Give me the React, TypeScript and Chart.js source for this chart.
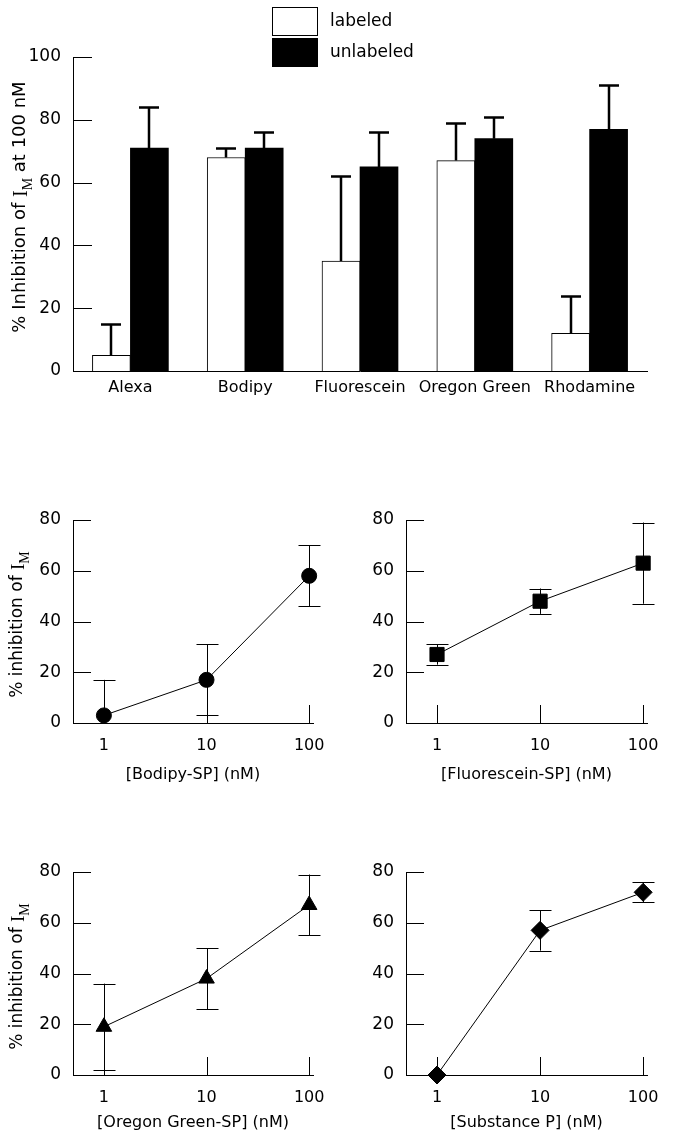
import React, { useEffect, useRef } from 'react';
import { Chart, registerables } from 'chart.js';

Chart.register(...registerables);

// ---------------- data ----------------
const dyeCategories = ['Alexa', 'Bodipy', 'Fluorescein', 'Oregon Green', 'Rhodamine'];
const labeledValues = [5, 68, 35, 67, 12];
const labeledErrors = [10, 3, 27, 12, 12];
const unlabeledValues = [71, 71, 65, 74, 77];
const unlabeledErrors = [13, 5, 11, 7, 14];
const barYTicks = [0, 20, 40, 60, 80, 100];

const concentrations = [1, 10, 100];
const concTickLabels = ['1', '10', '100'];
const doseYTicks = [0, 20, 40, 60, 80];

const bodipyValues = [3, 17, 58];
const bodipyErrors = [14, 14, 12];
const fluoresceinValues = [27, 48, 63];
const fluoresceinErrors = [4, 5, 16];
const oregonValues = [19, 38, 67];
const oregonErrors = [17, 12, 12];
const substancePValues = [0, 57, 72];
const substancePErrors = [0, 8, 4];

const SANS = "'DejaVu Sans', sans-serif";
const SERIF = "'Liberation Serif', serif";

// raw (unresolved) plugin options
function rawOpts(chart: any, id: string): any {
  const o = chart.config && chart.config.options;
  return (o && o.plugins && o.plugins[id]) || null;
}

// ---------------- plugins ----------------
function drawErrorBars(chart: any, opts: any) {
  const { ctx } = chart;
  chart.data.datasets.forEach((ds: any, di: number) => {
    const errs = ds.errors;
    if (!errs) return;
    const meta = chart.getDatasetMeta(di);
    const yScale = chart.scales[meta.yAxisID];
    ctx.save();
    ctx.strokeStyle = opts.color || '#000';
    ctx.lineWidth = opts.lineWidth || 1;
    const half = (opts.capWidth || 20) / 2;
    meta.data.forEach((el: any, i: number) => {
      const raw = ds.data[i];
      const value = typeof raw === 'object' ? raw.y : raw;
      const e = errs[i];
      if (!e) return;
      const x = Math.round(el.x) + (opts.lineWidth % 2 === 1 ? 0.5 : 0);
      const y0 = yScale.getPixelForValue(value);
      ctx.beginPath();
      const hi = value + e;
      const yHi = yScale.getPixelForValue(Math.min(hi, yScale.max));
      ctx.moveTo(x, y0);
      ctx.lineTo(x, yHi);
      if (hi <= yScale.max) {
        const yy = Math.round(yHi) + 0.5;
        ctx.moveTo(x - half, yy);
        ctx.lineTo(x + half, yy);
      }
      if (opts.both) {
        const lo = value - e;
        const yLo = yScale.getPixelForValue(Math.max(lo, yScale.min));
        ctx.moveTo(x, y0);
        ctx.lineTo(x, yLo);
        if (lo >= yScale.min) {
          const yy = Math.round(yLo) + 0.5;
          ctx.moveTo(x - half, yy);
          ctx.lineTo(x + half, yy);
        }
      }
      ctx.stroke();
    });
    ctx.restore();
  });
}

const errorBarPlugin = {
  id: 'errorBars',
  beforeDatasetsDraw(chart: any) {
    const opts = rawOpts(chart, 'errorBars');
    if (opts && opts.layer === 'before') drawErrorBars(chart, opts);
  },
  afterDatasetsDraw(chart: any) {
    const opts = rawOpts(chart, 'errorBars');
    if (opts && opts.layer === 'after') drawErrorBars(chart, opts);
  },
};

const innerTicksPlugin = {
  id: 'innerTicks',
  beforeDatasetsDraw(chart: any) {
    const opts = rawOpts(chart, 'innerTicks');
    if (!opts) return;
    const { ctx, chartArea } = chart;
    ctx.save();
    ctx.strokeStyle = '#000';
    ctx.lineWidth = 1;
    ctx.beginPath();
    (opts.axes || []).forEach((id: string) => {
      const scale = chart.scales[id];
      scale.ticks.forEach((t: any) => {
        const p = scale.getPixelForValue(t.value);
        if (scale.isHorizontal()) {
          const x = Math.round(p) + 0.5;
          ctx.moveTo(x, chartArea.bottom);
          ctx.lineTo(x, chartArea.bottom - opts.length);
        } else {
          const y = Math.round(p) + 0.5;
          ctx.moveTo(chartArea.left, y);
          ctx.lineTo(chartArea.left + opts.length, y);
        }
      });
    });
    ctx.stroke();
    ctx.restore();
  },
};

const yTitlePlugin = {
  id: 'yTitle',
  afterDraw(chart: any) {
    const opts = rawOpts(chart, 'yTitle');
    if (!opts || !opts.parts) return;
    const { ctx, chartArea } = chart;
    const parts = opts.parts;
    ctx.save();
    ctx.translate(opts.x, (chartArea.top + chartArea.bottom) / 2 + (opts.dy || 0));
    ctx.rotate(-Math.PI / 2);
    ctx.fillStyle = '#000';
    ctx.textAlign = 'left';
    ctx.textBaseline = 'alphabetic';
    let total = 0;
    parts.forEach((p: any) => {
      ctx.font = `${p.size}px ${p.family}`;
      total += ctx.measureText(p.text).width;
    });
    let cx = -total / 2;
    parts.forEach((p: any) => {
      ctx.font = `${p.size}px ${p.family}`;
      ctx.fillText(p.text, cx, p.shift || 0);
      cx += ctx.measureText(p.text).width;
    });
    ctx.restore();
  },
};

const boxLegendPlugin = {
  id: 'boxLegend',
  afterDraw(chart: any) {
    const opts = rawOpts(chart, 'boxLegend');
    if (!opts || !opts.show) return;
    const { ctx } = chart;
    ctx.save();
    chart.data.datasets.forEach((ds: any, i: number) => {
      const y = opts.y + i * opts.rowHeight;
      ctx.fillStyle = ds.backgroundColor;
      ctx.fillRect(opts.x, y, opts.boxWidth, opts.boxHeight);
      ctx.strokeStyle = ds.borderColor;
      ctx.lineWidth = 1;
      ctx.strokeRect(opts.x + 0.5, y + 0.5, opts.boxWidth - 1, opts.boxHeight - 1);
      ctx.fillStyle = '#000';
      ctx.font = `${opts.fontSize}px ${SANS}`;
      ctx.textBaseline = 'middle';
      ctx.textAlign = 'left';
      ctx.fillText(ds.label, opts.x + opts.boxWidth + opts.gap, y + opts.boxHeight / 2);
    });
    ctx.restore();
  },
};

const plugins = [errorBarPlugin, innerTicksPlugin, yTitlePlugin, boxLegendPlugin];

// ---------------- configs ----------------
function barConfig(): any {
  return {
    type: 'bar',
    data: {
      labels: dyeCategories,
      datasets: [
        {
          label: 'labeled',
          data: labeledValues,
          errors: labeledErrors,
          backgroundColor: '#ffffff',
          borderColor: '#000000',
          borderWidth: 1,
          barThickness: 38,
        },
        {
          label: 'unlabeled',
          data: unlabeledValues,
          errors: unlabeledErrors,
          backgroundColor: '#000000',
          borderColor: '#000000',
          borderWidth: 0,
          barThickness: 38,
        },
      ],
    },
    options: {
      responsive: false,
      animation: false,
      layout: { padding: { left: 0, right: 38, top: 57, bottom: 0 } },
      plugins: {
        legend: { display: false },
        tooltip: { enabled: false },
        errorBars: { layer: 'after', lineWidth: 2.5, capWidth: 20, color: '#000' },
        innerTicks: { axes: ['y'], length: 19 },
        yTitle: {
          x: 25,
          dy: -7,
          parts: [
            { text: '% Inhibition of ', family: SANS, size: 18, shift: 0 },
            { text: 'I', family: SERIF, size: 20, shift: 2 },
            { text: 'M', family: SERIF, size: 14, shift: 7 },
            { text: ' at 100 nM', family: SANS, size: 18, shift: 0 },
          ],
        },
        boxLegend: { show: true, x: 272, y: 7, rowHeight: 31, boxWidth: 46, boxHeight: 29, gap: 12, fontSize: 17 },
      },
      scales: {
        x: {
          grid: { display: false, drawTicks: false },
          border: { display: true, color: '#000', width: 1 },
          ticks: { padding: 7, color: '#000', font: { family: SANS, size: 16 }, maxRotation: 0, autoSkip: false },
          afterFit: (s: any) => { s.height = 49; },
        },
        y: {
          min: 0,
          max: 100,
          afterBuildTicks: (s: any) => { s.ticks = barYTicks.map((v) => ({ value: v })); },
          grid: { display: false, drawTicks: false },
          border: { display: true, color: '#000', width: 1 },
          ticks: { padding: 12, color: '#000', font: { family: SANS, size: 17 } },
          afterFit: (s: any) => { s.width = 73; },
        },
      },
    },
  };
}

type DoseOpts = {
  values: number[];
  errors: number[];
  pointStyle: string;
  radius: number;
  xTitle: string;
  yAxisWidth: number;
  padTop: number;
  padRight: number;
  xAxisHeight: number;
  titlePadBottom: number;
  showYTitle: boolean;
};

function doseConfig(o: DoseOpts): any {
  return {
    type: 'line',
    data: {
      datasets: [
        {
          data: concentrations.map((c, i) => ({ x: c, y: o.values[i] })),
          errors: o.errors,
          borderColor: '#000',
          borderWidth: 1,
          pointStyle: o.pointStyle,
          pointRadius: o.radius,
          pointBackgroundColor: '#000',
          pointBorderColor: '#000',
          pointBorderWidth: 1,
          tension: 0,
          clip: false,
        },
      ],
    },
    options: {
      responsive: false,
      animation: false,
      layout: { padding: { left: 0, right: o.padRight, top: o.padTop, bottom: 0 } },
      plugins: {
        legend: { display: false },
        tooltip: { enabled: false },
        errorBars: { layer: 'before', lineWidth: 1, capWidth: 22, both: true, color: '#000' },
        innerTicks: { axes: ['x', 'y'], length: 18 },
        yTitle: o.showYTitle
          ? {
              x: 22,
              dy: 3,
              parts: [
                { text: '% inhibition of ', family: SANS, size: 17, shift: 0 },
                { text: 'I', family: SERIF, size: 19, shift: 2 },
                { text: 'M', family: SERIF, size: 14, shift: 7 },
              ],
            }
          : null,
        boxLegend: { show: false },
      },
      scales: {
        x: {
          type: 'logarithmic',
          min: 0.5,
          max: 109,
          afterBuildTicks: (s: any) => { s.ticks = concentrations.map((v) => ({ value: v })); },
          grid: { display: false, drawTicks: false },
          border: { display: true, color: '#000', width: 1 },
          ticks: {
            padding: 13,
            color: '#000',
            font: { family: SANS, size: 16 },
            maxRotation: 0,
            autoSkip: false,
            callback: (_v: any, i: number) => concTickLabels[i],
          },
          title: {
            display: true,
            text: o.xTitle,
            color: '#000',
            font: { family: SANS, size: 16 },
            padding: { top: 0, bottom: o.titlePadBottom },
          },
          afterFit: (s: any) => { s.height = o.xAxisHeight; },
        },
        y: {
          min: 0,
          max: 80,
          afterBuildTicks: (s: any) => { s.ticks = doseYTicks.map((v) => ({ value: v })); },
          grid: { display: false, drawTicks: false },
          border: { display: true, color: '#000', width: 1 },
          ticks: { padding: 12, color: '#000', font: { family: SANS, size: 17 } },
          afterFit: (s: any) => { s.width = o.yAxisWidth; },
        },
      },
    },
  };
}

// ---------------- components ----------------
function ChartBox(props: { left: number; top: number; width: number; height: number; make: () => any }) {
  const ref = useRef<HTMLCanvasElement | null>(null);
  useEffect(() => {
    if (!ref.current) return;
    const cfg = props.make();
    cfg.plugins = plugins;
    const chart = new Chart(ref.current, cfg);
    return () => chart.destroy();
  }, []);
  return (
    <div style={{ position: 'absolute', left: props.left, top: props.top, width: props.width, height: props.height }}>
      <canvas ref={ref} width={props.width} height={props.height} style={{ display: 'block' }} />
    </div>
  );
}

export default function App() {
  return (
    <div style={{ position: 'absolute', left: 0, top: 0, width: 685, height: 1140, background: '#fff' }}>
      <ChartBox left={0} top={0} width={685} height={420} make={barConfig} />
      <ChartBox
        left={0}
        top={470}
        width={340}
        height={330}
        make={() =>
          doseConfig({
            values: bodipyValues, errors: bodipyErrors, pointStyle: 'circle', radius: 7.5,
            xTitle: '[Bodipy-SP] (nM)', yAxisWidth: 73, padTop: 50, padRight: 27,
            xAxisHeight: 77, titlePadBottom: 16, showYTitle: true,
          })
        }
      />
      <ChartBox
        left={340}
        top={470}
        width={345}
        height={330}
        make={() =>
          doseConfig({
            values: fluoresceinValues, errors: fluoresceinErrors, pointStyle: 'rect', radius: 10,
            xTitle: '[Fluorescein-SP] (nM)', yAxisWidth: 66, padTop: 50, padRight: 38,
            xAxisHeight: 77, titlePadBottom: 16, showYTitle: false,
          })
        }
      />
      <ChartBox
        left={0}
        top={800}
        width={340}
        height={340}
        make={() =>
          doseConfig({
            values: oregonValues, errors: oregonErrors, pointStyle: 'triangle', radius: 9,
            xTitle: '[Oregon Green-SP] (nM)', yAxisWidth: 73, padTop: 72, padRight: 27,
            xAxisHeight: 65, titlePadBottom: 8, showYTitle: true,
          })
        }
      />
      <ChartBox
        left={340}
        top={800}
        width={345}
        height={340}
        make={() =>
          doseConfig({
            values: substancePValues, errors: substancePErrors, pointStyle: 'rectRot', radius: 9,
            xTitle: '[Substance P] (nM)', yAxisWidth: 66, padTop: 72, padRight: 38,
            xAxisHeight: 65, titlePadBottom: 8, showYTitle: false,
          })
        }
      />
    </div>
  );
}
